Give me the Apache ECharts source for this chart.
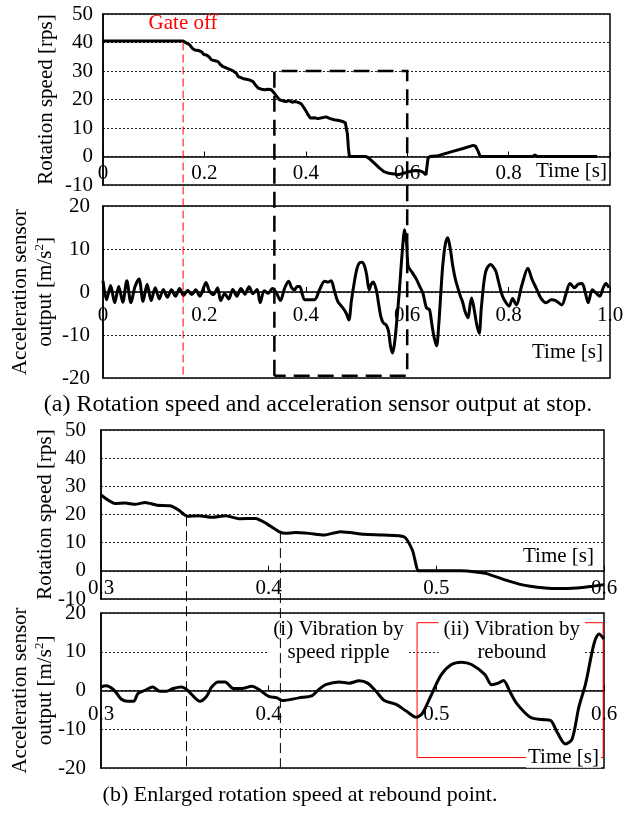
<!DOCTYPE html>
<html><head><meta charset="utf-8">
<script src="https://cdn.jsdelivr.net/npm/echarts@6/dist/echarts.min.js"></script>
<style>html,body{margin:0;padding:0;background:#fff}#c{width:624px;height:813px}</style>
</head><body><div id="c"></div>
<script>
// ---------- DATA ----------
// (a) top: rotation speed [rps] vs time [s]
const speedT1 = [0,0.158,0.165,0.171,0.176,0.181,0.188,0.194,0.199,0.204,0.210,0.214,0.221,0.227,0.232,0.237,0.244,0.250,0.257,0.263,0.267,0.270,0.277,0.283,0.290,0.296,0.301,0.306,0.313,0.319,0.326,0.332,0.338,0.343,0.348,0.355,0.361,0.368,0.373,0.378,0.385,0.391,0.396,0.401,0.405,0.409,0.417,0.424,0.432,0.440,0.448,0.456,0.465,0.473,0.478,0.480,0.482,0.484,0.486,0.519,0.527,0.535,0.545,0.554,0.564,0.574,0.582,0.590,0.598,0.607,0.617,0.625,0.631,0.637,0.641,0.645,0.661,0.690,0.710,0.730,0.735,0.740,0.744,0.815,0.818,0.822,0.848,0.852,0.856,0.975];
const speedV1 = [40.5,40.5,39.8,39.2,38.0,37.4,37.2,36.8,35.8,35.6,34.8,33.9,33.6,33.3,32.2,31.5,31.0,30.6,30.0,29.2,28.0,27.5,27.3,27.1,26.8,26.3,25.0,24.0,23.6,23.4,23.6,23.4,22.2,21.0,19.9,19.5,19.3,19.6,19.0,19.3,19.0,18.5,17.2,15.8,14.5,13.5,13.6,13.3,13.6,13.9,13.3,12.9,12.6,12.3,11.8,11.1,8.0,3.0,0,0,-1.0,-2.3,-4.0,-5.3,-5.9,-6.1,-6.4,-6.0,-5.6,-5.2,-4.9,-5.0,-5.5,-6.4,-0.6,0,0.3,1.8,2.8,3.9,3.6,1.8,0,0,0.7,0,0,0.6,0,0];
// (a) bottom: acceleration sensor output [m/s^2] vs time [s]
const accT1 = [0.000,0.007,0.015,0.023,0.031,0.039,0.047,0.055,0.063,0.071,0.079,0.087,0.095,0.103,0.111,0.119,0.127,0.135,0.143,0.151,0.159,0.167,0.175,0.183,0.191,0.199,0.203,0.210,0.218,0.226,0.232,0.240,0.248,0.256,0.264,0.272,0.280,0.288,0.296,0.304,0.310,0.318,0.326,0.334,0.342,0.350,0.358,0.366,0.372,0.378,0.383,0.388,0.393,0.398,0.417,0.427,0.437,0.444,0.450,0.456,0.463,0.473,0.480,0.485,0.490,0.496,0.501,0.506,0.511,0.516,0.520,0.525,0.529,0.533,0.539,0.544,0.548,0.553,0.558,0.563,0.567,0.571,0.575,0.580,0.585,0.590,0.595,0.599,0.602,0.610,0.618,0.624,0.631,0.638,0.644,0.648,0.653,0.658,0.662,0.667,0.670,0.675,0.680,0.685,0.690,0.695,0.700,0.705,0.709,0.714,0.720,0.724,0.727,0.732,0.737,0.742,0.746,0.751,0.755,0.760,0.765,0.770,0.775,0.781,0.788,0.795,0.801,0.808,0.815,0.826,0.838,0.846,0.854,0.864,0.874,0.884,0.893,0.905,0.913,0.921,0.930,0.937,0.945,0.951,0.957,0.965,0.972,0.980,0.986,0.992,0.998];
const accV1 = [2.6,-1.8,1.5,-2.5,1.3,-2.4,2.6,-2.5,1.2,3.0,-2.2,1.8,-2.0,1.0,-1.6,0.6,-1.2,0.5,-1.0,0.8,-0.8,0.4,-0.6,0.5,-1.0,1.2,2.2,0.2,-0.6,1.0,-2.0,-0.4,-1.6,0.6,-1.0,0.8,-0.5,1.2,-0.4,0.6,-2.5,0.3,-0.3,0.8,-0.2,-2.0,0.8,2.5,1.0,0.5,1.3,1.3,-0.5,-1.8,-1.8,0.5,2.5,2.3,2.6,0.5,-2.2,-3.7,-5.0,-6.5,-2.0,2.5,5.5,6.8,6.9,6.0,4.0,0.5,1.8,2.3,0.5,-3.0,-5.7,-7.2,-7.6,-9.0,-12.5,-14.2,-12.0,-6.0,1.0,9.0,14.5,11.0,6.0,4.5,3.0,1.5,-0.3,-3.7,-4.1,-7.0,-10.5,-12.5,-8.0,1.0,6.0,11.0,12.6,10.0,6.0,3.0,0.9,-1.0,-2.2,-4.5,-6.0,-3.0,-1.4,-4.0,-7.5,-9.6,-4.0,2.0,4.8,6.0,6.4,5.8,4.8,2.0,-1.0,-2.5,-3.3,-1.5,-3.0,1.5,5.5,3.0,1.0,-1.5,-2.5,-1.8,-2.0,-3.0,-0.5,2.0,1.0,1.8,2.0,0,-2.5,0.5,-0.2,-1.0,0.8,2.0,1.0];
// (b) top: enlarged rotation speed
const speedT2 = [0.300,0.304,0.3084,0.3144,0.3204,0.3264,0.3334,0.3413,0.3463,0.3513,0.3583,0.3663,0.3743,0.3823,0.3922,0.3992,0.4062,0.410,0.416,0.424,0.4329,0.4429,0.4568,0.4688,0.4807,0.4857,0.4877,0.4893,0.5146,0.5246,0.530,0.542,0.550,0.556,0.565,0.572,0.584,0.592,0.600];
const speedV2 = [26.9,25.2,23.9,24.1,23.6,24.3,23.3,23.1,21.6,19.4,19.6,19.0,19.6,18.5,18.6,16.6,13.9,13.3,13.6,13.3,12.7,13.9,13.0,12.7,12.1,7.4,2.7,0,0,-0.5,-1.0,-3.4,-4.8,-5.5,-6.1,-6.3,-6.1,-5.6,-4.9];
// (b) bottom: enlarged acceleration sensor output
const accT2 = [0.300,0.303,0.308,0.312,0.316,0.3195,0.322,0.326,0.331,0.335,0.339,0.343,0.348,0.351,0.354,0.359,0.363,0.366,0.370,0.374,0.379,0.384,0.390,0.394,0.400,0.405,0.408,0.418,0.426,0.430,0.434,0.442,0.448,0.454,0.459,0.464,0.469,0.476,0.482,0.488,0.491,0.493,0.498,0.503,0.509,0.515,0.521,0.529,0.533,0.537,0.540,0.544,0.548,0.556,0.563,0.568,0.572,0.577,0.581,0.585,0.589,0.594,0.597,0.600];
const accV2 = [0.9,1.2,0,-2.2,-2.8,-2.8,-0.8,0,0.9,-0.2,-0.2,0.5,0.9,0.3,-1.0,-2.8,-1.5,0.9,2.2,2.2,0.5,0.5,1.1,0.3,-1.5,-1.9,-2.6,-1.9,-1.3,0.3,1.5,2.2,1.9,2.5,1.9,-0.2,-2.6,-3.6,-5.3,-6.9,-6.2,-4.9,-0.2,4.1,6.7,7.3,6.7,4.1,1.5,1.9,2.6,-0.4,-3.4,-6.9,-7.5,-7.7,-10.7,-13.8,-12.5,-4.3,1.7,12.0,14.6,13.3];
// annotation positions (data coordinates)
const gateOffT = 0.158;
const zoomWin = [0.338, 0.6];          // dashed window, time
const zoomWinV = [30, -19.5];          // top (speed), bottom (accel)
const rippleT = [0.351, 0.407];
const rippleStartV = [19.4, 13.4];
const reboundBox = [0.4885, 0.5995, 17.5, -17.3];
// axis tick values
const speedTicks = [-10, 0, 10, 20, 30, 40, 50];
const accTicks = [-20, -10, 0, 10, 20];

// ---------- CHART ----------
const FONT = '"Liberation Serif","Times New Roman",serif';
const chart = echarts.init(document.getElementById('c'), null, {renderer: 'canvas'});
const zip = (a, b) => a.map((v, i) => [v, b[i]]);
const fmt = v => (Math.abs(v) < 1e-9 ? '0' : (+v).toFixed(1));

const gridBoxes = [
  {left: 103, top: 14, width: 507, height: 171},
  {left: 103, top: 206, width: 507, height: 172},
  {left: 101, top: 430, width: 503, height: 169},
  {left: 101, top: 613, width: 503, height: 155}
];
const yTicksOf = [speedTicks, accTicks, speedTicks, accTicks];
const grids = gridBoxes.map(g => Object.assign({}, g, {show: true, borderColor: '#000', borderWidth: 1.5, backgroundColor: 'transparent', containLabel: false, outerBoundsMode: 'none'}));

// x axis sits on the zero line of its y axis
function zeroOffset(i) {
  const t = yTicksOf[i], lo = t[0], hi = t[t.length - 1];
  return -gridBoxes[i].height * (0 - lo) / (hi - lo);
}
function xAx(i, min, max, itv, margin, fmtf) {
  return {
    gridIndex: i, type: 'value', min: min, max: max, interval: itv,
    position: 'bottom', offset: zeroOffset(i),
    axisLine: {onZero: false, lineStyle: {color: '#000', width: 1.5}},
    axisTick: {inside: true, length: 5, lineStyle: {color: '#000', width: 1}},
    axisLabel: {color: '#000', fontSize: 21, fontFamily: FONT, margin: margin, formatter: fmtf, showMinLabel: true, showMaxLabel: true},
    splitLine: {show: false}
  };
}
function yAx(i, ticks, margin, name, nameGap) {
  return {
    gridIndex: i, type: 'value', min: ticks[0], max: ticks[ticks.length - 1], interval: ticks[1] - ticks[0],
    axisLine: {show: true, onZero: false, lineStyle: {color: '#000', width: 1.5}},
    axisTick: {show: false},
    axisLabel: {color: '#000', fontSize: 21, fontFamily: FONT, margin: margin},
    splitLine: {show: true, lineStyle: {color: '#222', width: 1, type: [2, 2]}},
    name: name, nameLocation: 'middle', nameRotate: 90, nameGap: nameGap, nameMoveOverlap: false,
    nameTextStyle: {color: '#000', fontSize: 21, fontFamily: FONT,
      rich: {t: {fontSize: 21, fontFamily: FONT, color: '#000', lineHeight: 25},
             s: {fontSize: 13, fontFamily: FONT, color: '#000', verticalAlign: 'top', lineHeight: 25}}}
  };
}
const accName = '{t|Acceleration sensor}\n{t|output [m/s}{s|2}{t|]}';

const option = {
  animation: false,
  backgroundColor: '#fff',
  grid: grids,
  xAxis: [
    xAx(0, 0, 1, 0.2, 6, v => (v > 0.99 ? '' : fmt(v))),
    xAx(1, 0, 1, 0.2, 13, fmt),
    xAx(2, 0.3, 0.6, 0.1, 7, fmt),
    xAx(3, 0.3, 0.6, 0.1, 13, fmt)
  ],
  yAxis: [
    yAx(0, speedTicks, 10, 'Rotation speed [rps]', 46),
    yAx(1, accTicks, 13, accName, 45),
    yAx(2, speedTicks, 15, 'Rotation speed [rps]', 45),
    yAx(3, accTicks, 15, accName, 43)
  ],
  series: [
    {type: 'line', xAxisIndex: 0, yAxisIndex: 0, data: zip(speedT1, speedV1), showSymbol: false, lineStyle: {color: '#000', width: 3}, z: 2},
    {type: 'line', xAxisIndex: 1, yAxisIndex: 1, data: zip(accT1, accV1), showSymbol: false, smooth: 0.3, lineStyle: {color: '#000', width: 3}, z: 2},
    {type: 'line', xAxisIndex: 2, yAxisIndex: 2, data: zip(speedT2, speedV2), showSymbol: false, smooth: 0.2, lineStyle: {color: '#000', width: 3}, z: 2},
    {type: 'line', xAxisIndex: 3, yAxisIndex: 3, data: zip(accT2, accV2), showSymbol: false, smooth: 0.3, lineStyle: {color: '#000', width: 3}, z: 2}
  ]
};
chart.setOption(option);

// ---------- ANNOTATIONS (positioned through the axes) ----------
const P = (g, x, y) => chart.convertToPixel({gridIndex: g}, [x, y]);
const txt = (pos, text, extra, z) => ({
  type: 'text', x: pos[0], y: pos[1], z: z == null ? 4 : z,
  style: Object.assign({text: text, fontSize: 21, fontFamily: FONT, fill: '#000', align: 'center', verticalAlign: 'middle'}, extra || {})
});
const line = (a, b, stroke, w, dash) => ({type: 'line', z: 3, shape: {x1: a[0], y1: a[1], x2: b[0], y2: b[1]}, style: {stroke: stroke, lineWidth: w, lineDash: dash}});

const g = [];
// Gate off
g.push(line(P(0, gateOffT, 40), P(1, gateOffT, -20), '#ff0000', 1, [8, 4]));
g.push(txt(P(0, gateOffT, 46.5), 'Gate off', {fill: '#ff0000'}));
// dashed window spanning (a)
const w0 = P(0, zoomWin[0], zoomWinV[0]), w1 = P(0, zoomWin[1], zoomWinV[0]);
const w2 = P(1, zoomWin[1], zoomWinV[1]), w3 = P(1, zoomWin[0], zoomWinV[1]);
g.push({type: 'polyline', z: 3, shape: {points: [w3, w0, w1, w2, w3]}, style: {stroke: '#000', lineWidth: 2.5, lineDash: [16, 8], fill: null}});
// thin dashed lines in (b)
rippleT.forEach((t, i) => g.push(line(P(2, t, rippleStartV[i]), P(3, t, -20), '#000', 1, [10, 5])));
// rebound box (below the curve, below its labels)
const r0 = P(3, reboundBox[0], reboundBox[2]), r1 = P(3, reboundBox[1], reboundBox[3]);
g.push({type: 'rect', z: 1, shape: {x: r0[0], y: r0[1], width: r1[0] - r0[0], height: r1[1] - r0[1]}, style: {stroke: '#ff0000', lineWidth: 1, fill: null}});
// Time [s] labels
const tOpts = {align: 'right', backgroundColor: '#fff', padding: [0, 2]};
let p;
p = P(0, 1, -5.3); g.push(txt([p[0] - 1, p[1]], 'Time [s]', tOpts, 1.5));
p = P(1, 1, -14); g.push(txt([p[0] - 5, p[1]], 'Time [s]', tOpts, 1.5));
p = P(2, 0.6, 5.1); g.push(txt([p[0] - 8, p[1]], 'Time [s]', tOpts, 1.5));
p = P(3, 0.6, -17.2); g.push(txt([p[0] - 3, p[1]], 'Time [s]', tOpts, 1.5));
// vibration annotations
g.push(txt(P(3, 0.4417, 12.8), '(i) Vibration by\nspeed ripple', {backgroundColor: '#fff', padding: [0, 5], lineHeight: 23}, 1.5));
g.push(txt(P(3, 0.545, 12.8), '(ii) Vibration by\nrebound', {backgroundColor: '#fff', padding: [0, 5], lineHeight: 23}, 1.5));
// captions
g.push(txt([318, 405], '(a) Rotation speed and acceleration sensor output at stop.', {fontSize: 24}));
g.push(txt([300, 795], '(b) Enlarged rotation speed at rebound point.', {fontSize: 22}));

chart.setOption({graphic: g});
</script>
</body></html>
